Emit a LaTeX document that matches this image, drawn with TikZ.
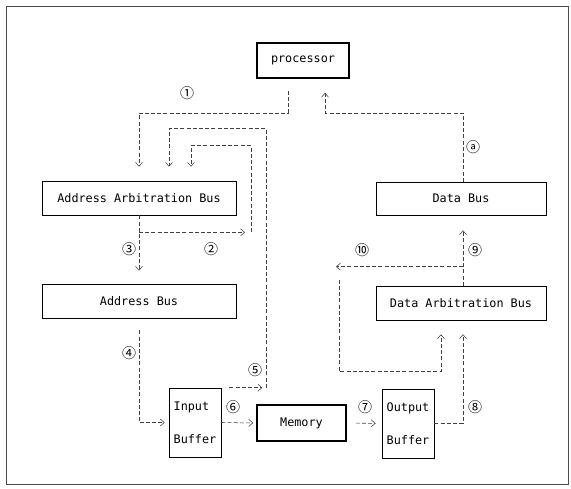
\documentclass[tikz,border=0pt]{standalone}
\usepackage{fontspec}
\setmonofont{DejaVu Sans Mono}
\newfontfamily\circfont{Noto Sans CJK SC}
\usetikzlibrary{
    calc,
    arrows.meta
}

\begin{document}
\begin{tikzpicture}[x=1pt,y=-1pt,
    >={Straight Barb[length=4pt,width=7pt]},
    box/.style={draw,line width=0.6pt,inner sep=1pt,
        font=\ttfamily\fontsize{11.8}{14}\selectfont},
    dbox/.style={box,line width=1.6pt},
    buf/.style={box,align=left,minimum width=52pt,minimum height=69pt,
        font=\ttfamily\fontsize{11.8}{33}\selectfont},
    bus/.style={draw=black!75,line width=0.55pt,dash pattern=on 4pt off 2.2pt},
    num/.style={font=\circfont\fontsize{14}{14}\selectfont,inner sep=0pt}]

\useasboundingbox (0,0) rectangle (571,488);
\draw[black!70,line width=0.6pt] (6,6) rectangle (568,484);

%====================================================
% Blocchi
%====================================================

\node[dbox,minimum width=92pt,minimum height=35pt] (proc) at (303,60.5) {processor};

\node[box,minimum width=194pt,minimum height=34pt] (aab) at (139,198) {Address Arbitration Bus};
\node[box,minimum width=194pt,minimum height=34pt] (ab) at (139,301) {Address Bus};

\node[box,minimum width=170pt,minimum height=33pt] (db) at (461,198.5) {Data Bus};
\node[box,minimum width=170pt,minimum height=34pt] (dab) at (461,303) {Data Arbitration Bus};

\node[buf] (inb) at (195,422.5) {Input\\Buffer};
\node[dbox,minimum width=89pt,minimum height=36pt] (mem) at (301.5,423) {Memory};
\node[buf] (outb) at (408,423.5) {Output\\Buffer};

%====================================================
% Lato indirizzi
%====================================================

\draw[bus,->,shorten >=14pt] ($(proc.south)+(-15,12)$) -- ++(0,22) -| (aab.north);

\coordinate (A2) at ($(aab.south)+(0,17)$);
\draw[bus,->,shorten >=4pt] (A2) -- ++(110,0);
\coordinate (A2r) at ($(aab.south)+(112,17)$);
\draw[bus,->,shorten >=14pt] (A2r) |- ($(aab.north)+(52,-35)$) -- ($(aab.north)+(52,0)$);

\draw[bus,->,shorten >=13pt] (aab.south) -- (ab.north);

\draw[bus,->,shorten <=12pt,shorten >=4pt] (ab.south) |- (inb.west);

\draw[bus,->,shorten <=8pt,shorten >=4pt] (inb.north east) -- ++(45,0);
\coordinate (R5) at ($(inb.north east)+(45,0)$);
\draw[bus,->,shorten >=14pt] (R5) |- ($(aab.north)+(30,-52)$) -- ($(aab.north)+(30,0)$);

\draw[bus,->,shorten >=3pt] (inb.east) -- (mem.west);
\draw[bus,->,shorten <=9pt,shorten >=6pt] (mem.east) -- (outb.west);

%====================================================
% Lato dati
%====================================================

\draw[bus,->,shorten >=14pt] (outb.east) -| ($(dab.south)+(2,0)$);

\draw[bus,->,shorten >=15pt] ($(dab.north)+(2,0)$) -- ($(db.south)+(2,0)$);

\coordinate (D10) at ($(dab.north)+(2,-19)$);
\draw[bus,->] (D10) -- ++(-127,0);
\coordinate (D10r) at ($(dab.north)+(-122,-6)$);
\draw[bus,->,shorten >=14pt] (D10r) |- ($(dab.south)+(-20,51)$) -- ($(dab.south)+(-20,0)$);

\draw[bus,->,shorten >=14pt] ($(db.north)+(2,0)$) |- ($(proc.south)+(22,34)$) -- ($(proc.south)+(22,0)$);

%====================================================
% Numeri
%====================================================

\node[num] (n1) at (187,93) {①};
\node[num] (n2) at (211,249) {②};
\node[num] (n3) at (129,249) {③};
\node[num] (n4) at (129,353) {④};
\node[num] (n5) at (255,370) {⑤};
\node[num] (n6) at (233,407) {⑥};
\node[num] (n7) at (365,407) {⑦};
\node[num] (n8) at (475,407) {⑧};
\node[num] (n9) at (475,250) {⑨};
\node[num] (n10) at (362,250) {⑩};
\node[num] (na) at (473,147) {ⓐ};
\end{tikzpicture}
\end{document}
